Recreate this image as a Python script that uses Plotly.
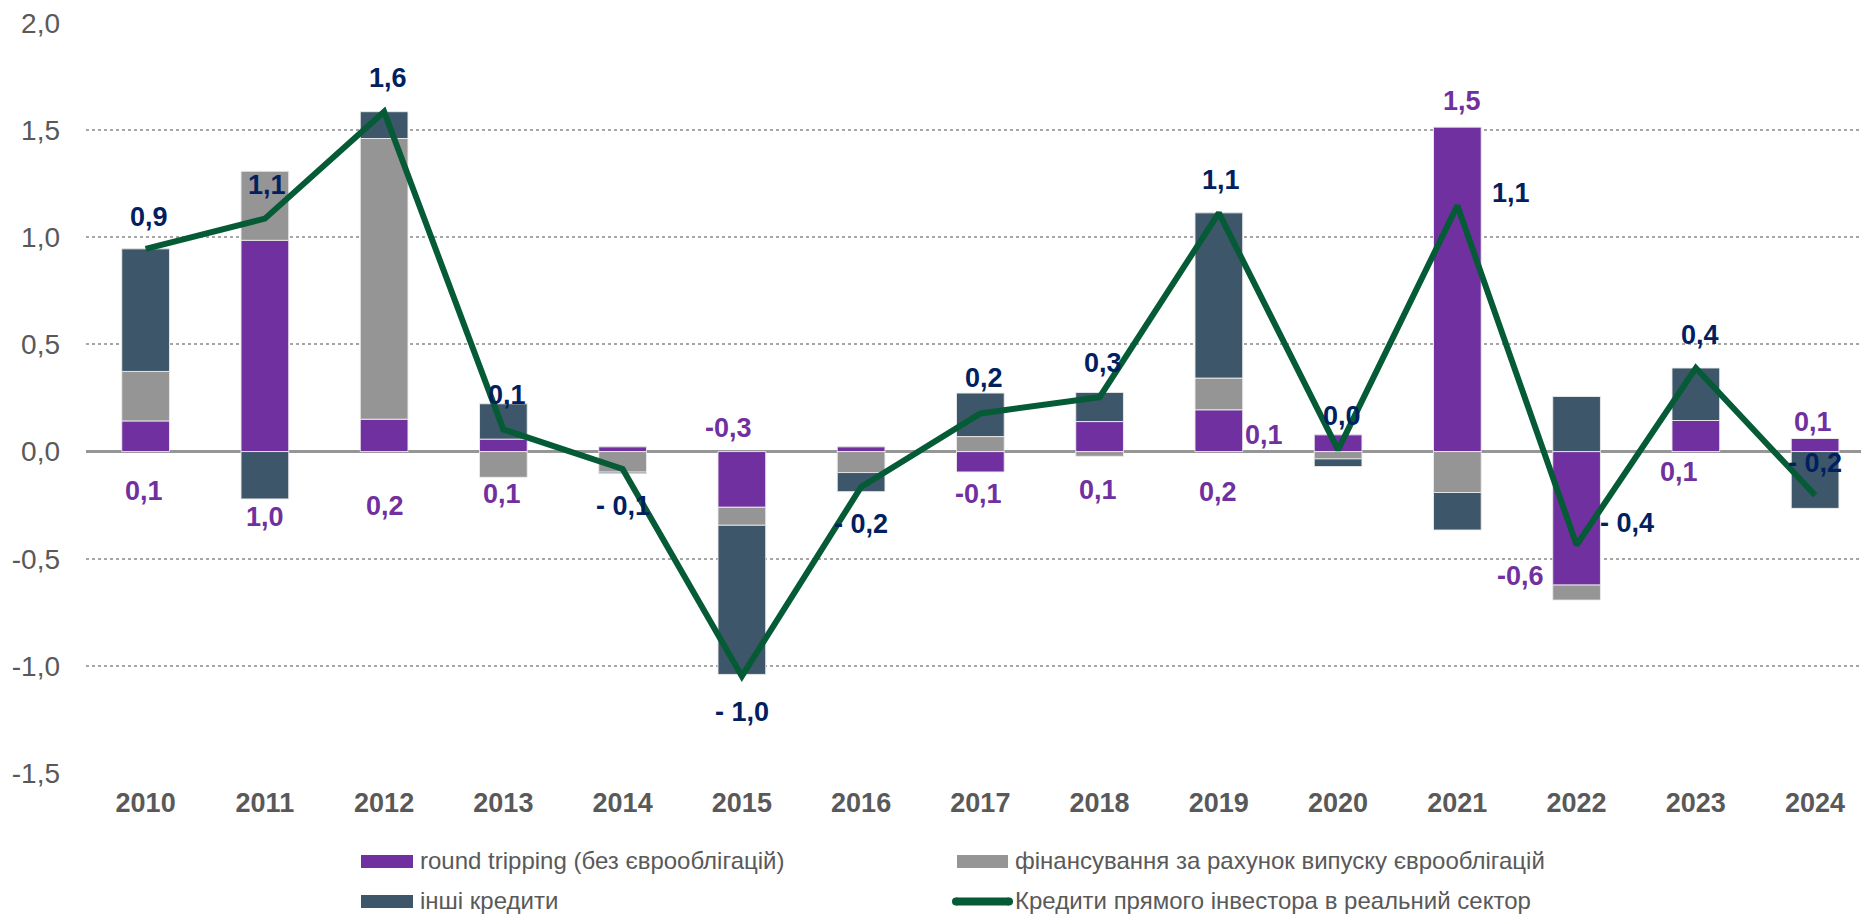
import plotly.graph_objects as go

years = ["2010", "2011", "2012", "2013", "2014", "2015", "2016", "2017",
         "2018", "2019", "2020", "2021", "2022", "2023", "2024"]

round_tripping = [0.143, 0.986, 0.151, 0.058, 0.022, -0.260, 0.022, -0.095,
                  0.140, 0.195, 0.078, 1.514, -0.623, 0.145, 0.061]
eurobonds = [0.231, 0.322, 1.310, -0.120, -0.096, -0.084, -0.098, 0.070,
             -0.022, 0.148, -0.034, -0.191, -0.070, 0.000, 0.000]
other_loans = [0.572, -0.221, 0.125, 0.165, -0.007, -0.696, -0.089, 0.203,
               0.136, 0.771, -0.036, -0.175, 0.257, 0.245, -0.265]
total = [0.946, 1.087, 1.586, 0.103, -0.081, -1.048, -0.165, 0.178,
         0.254, 1.114, 0.008, 1.148, -0.436, 0.390, -0.204]

total_labels = ["0,9", "1,1", "1,6", "0,1", "- 0,1", "- 1,0", "- 0,2", "0,2",
                "0,3", "1,1", "0,0", "1,1", "- 0,4", "0,4", "- 0,2"]

# purple labels: (year index, text)
rt_label_year = [0, 1, 2, 3, 5, 7, 8, 9, 9, 11, 12, 13, 14]
rt_label_text = ["0,1", "1,0", "0,2", "0,1", "-0,3", "-0,1", "0,1", "0,1",
                 "0,2", "1,5", "-0,6", "0,1", "0,1"]

y_tickvals = [-1.5, -1.0, -0.5, 0.0, 0.5, 1.0, 1.5, 2.0]
y_ticktext = ["-1,5", "-1,0", "-0,5", "0,0", "0,5", "1,0", "1,5", "2,0"]

series_names = ["round tripping (без єврооблігацій)",
                "фінансування за рахунок випуску єврооблігацій",
                "інші кредити",
                "Кредити прямого інвестора в реальний сектор"]

# ---- styling (positions / offsets, kept separate from data) ----
FONT = "Liberation Sans, Arial, sans-serif"
PURPLE = "#7030A0"
GRAY = "#959595"
DARK = "#3D5669"
GREEN = "#065B37"
NAVY = "#002060"
AXIS_TXT = "#595959"
series_colors = [PURPLE, GRAY, DARK, GREEN]

total_shift = [(3.5, 32), (2, 34), (4, 34), (4, 35), (0.5, -37), (0, -36),
               (0, -37), (4, 35), (3.5, 34), (2, 33), (4, 34), (54, 13),
               (50, 22), (4, 33), (0, 32)]
rt_anchor = ["zero", "zero", "zero", "zero", "zero", "zero", "zero", "zero",
             "zero", "value", "value", "zero", "zero"]
rt_shift = [(-1.5, -39), (0, -65), (1, -54), (-1, -42), (-13, 24), (-2, -42),
            (-1.5, -38), (45, 17), (-1, -40), (5, 26), (-56.5, 9), (-17, -20),
            (-2, 30)]

W, H = 1861, 915
ML, MR, MT, MB = 86, 0, 23, 142
PW, PH = W - ML - MR, H - MT - MB


def px_x(px):
    return (px - ML) / PW


def px_y(py):
    return (H - MB - py) / PH


fig = go.Figure()
bar_line = dict(color="rgba(235,235,235,0.9)", width=1)
for k, vals in enumerate([round_tripping, eurobonds, other_loans]):
    fig.add_trace(go.Bar(x=years, y=vals, name=series_names[k], width=0.4,
                         marker=dict(color=series_colors[k], line=bar_line),
                         hoverinfo="skip", showlegend=False))

fig.add_trace(go.Scatter(x=years, y=total, name=series_names[3], mode="lines",
                         line=dict(color=GREEN, width=6), hoverinfo="skip",
                         showlegend=False))

annotations = []
for i, (txt, (dx, dy)) in enumerate(zip(total_labels, total_shift)):
    annotations.append(dict(x=i, y=total[i], xref="x", yref="y", text=txt,
                            showarrow=False, xshift=dx, yshift=dy,
                            font=dict(family=FONT, size=27, color=NAVY, weight="bold")))
for k, i in enumerate(rt_label_year):
    yv = 0 if rt_anchor[k] == "zero" else round_tripping[i]
    dx, dy = rt_shift[k]
    annotations.append(dict(x=i, y=yv, xref="x", yref="y", text=rt_label_text[k],
                            showarrow=False, xshift=dx, yshift=dy,
                            font=dict(family=FONT, size=27, color=PURPLE, weight="bold")))

# ---- legend (drawn as keys + text below the plot) ----
legend_rows = [860, 900, 860, 900]
legend_cols = [(361, 413, 418), (361, 413, 418), (957, 1008, 1013), (953, 1012, 1013)]
legend_order = [0, 2, 1, 3]
shapes = []
for slot, k in enumerate(legend_order):
    yc = legend_rows[slot]
    x0, x1, xt = legend_cols[slot]
    ys = yc + 1.5
    if k < 3:
        shapes.append(dict(type="rect", xref="paper", yref="paper",
                           x0=px_x(x0), x1=px_x(x1), y0=px_y(ys + 6.5), y1=px_y(ys - 6.5),
                           fillcolor=series_colors[k], line=dict(width=0)))
    else:
        shapes.append(dict(type="line", xref="paper", yref="paper",
                           x0=px_x(x0 + 3), x1=px_x(x1 - 3), y0=px_y(ys), y1=px_y(ys),
                           line=dict(color=series_colors[k], width=8)))
        for xe in (x0 + 3, x1 - 3):
            shapes.append(dict(type="circle", xref="paper", yref="paper",
                               x0=px_x(xe - 4), x1=px_x(xe + 4),
                               y0=px_y(ys + 4), y1=px_y(ys - 4),
                               fillcolor=series_colors[k], line=dict(width=0)))
    annotations.append(dict(x=px_x(xt), y=px_y(yc), xref="paper", yref="paper",
                            xanchor="left", yanchor="middle", text=series_names[k],
                            showarrow=False,
                            font=dict(family=FONT, size=24, color=AXIS_TXT)))

fig.update_layout(
    width=W, height=H,
    margin=dict(l=ML, r=MR, t=MT, b=MB),
    paper_bgcolor="white", plot_bgcolor="white",
    barmode="relative",
    font=dict(family=FONT, color=AXIS_TXT),
    showlegend=False,
    annotations=annotations,
    shapes=shapes,
)
fig.update_xaxes(type="category", range=[-0.5, 14.385], showgrid=False, showline=False,
                 ticks="", tickfont=dict(family=FONT, size=27, color=AXIS_TXT, weight="bold"),
                 ticklabelstandoff=11)
fig.update_yaxes(range=[-1.5, 2.0], tickvals=y_tickvals, ticktext=y_ticktext,
                 showgrid=True, gridcolor="#A6A6A6", gridwidth=1.5, griddash="dot",
                 zeroline=True, zerolinecolor="#969696", zerolinewidth=2.5,
                 showline=False, ticks="",
                 tickfont=dict(family=FONT, size=28, color=AXIS_TXT),
                 ticklabelstandoff=25)

fig.write_html("out.html", config={"displayModeBar": False},
               post_script="document.body.style.margin='0px';")
